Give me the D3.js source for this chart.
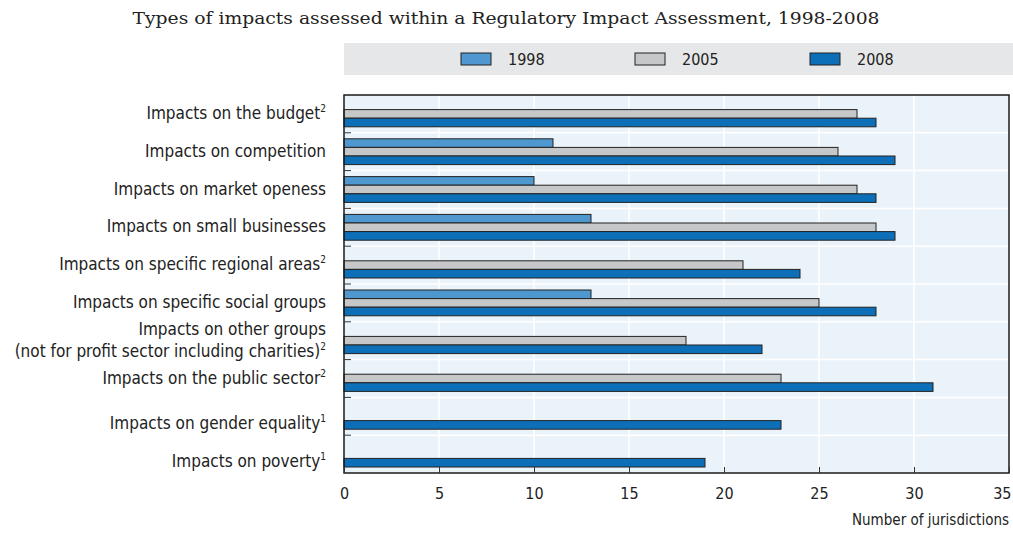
<!DOCTYPE html>
<html>
<head>
<meta charset="utf-8">
<script src="https://cdn.jsdelivr.net/npm/d3@7"></script>
<style>
  body { margin: 0; background: #fff; }
  svg { display: block; }
  .lbl { font-family: "DejaVu Sans Condensed", "DejaVu Sans", sans-serif; font-stretch: condensed; font-size: 16px; fill: #222; }
  .cat { font-size: 17px; }
</style>
</head>
<body>
<div id="chart"></div>
<script>
const categories = [
  ["Impacts on the budget", "2"],
  ["Impacts on competition", ""],
  ["Impacts on market openess", ""],
  ["Impacts on small businesses", ""],
  ["Impacts on specific regional areas", "2"],
  ["Impacts on specific social groups", ""],
  ["Impacts on other groups|(not for profit sector including charities)", "2"],
  ["Impacts on the public sector", "2"],
  ["Impacts on gender equality", "1"],
  ["Impacts on poverty", "1"]
];
const years = ["1998", "2005", "2008"];
const v1998 = [0, 11, 10, 13, 0, 13, 0, 0, 0, 0];
const v2005 = [27, 26, 27, 28, 21, 25, 18, 23, 0, 0];
const v2008 = [28, 29, 28, 29, 24, 28, 22, 31, 23, 19];
const xTicks = [0, 5, 10, 15, 20, 25, 30, 35];
const colors = ["#4e97cf", "#c6c7c9", "#0d6fb8"];

function draw() {
  const W = 1013, H = 534;
  const left = 344, right = 1009, top = 95, bottom = 473;

  const svg = d3.select("#chart").append("svg")
    .attr("width", W).attr("height", H);

  svg.append("text")
    .attr("x", 506).attr("y", 24)
    .attr("text-anchor", "middle")
    .style("font-family", "'DejaVu Serif', serif")
    .style("font-size", "16.5px")
    .attr("textLength", 747).attr("lengthAdjust", "spacingAndGlyphs")
    .attr("fill", "#222")
    .text("Types of impacts assessed within a Regulatory Impact Assessment, 1998-2008");

  // legend band
  svg.append("rect")
    .attr("x", 344).attr("y", 43).attr("width", W - 344).attr("height", 32)
    .attr("fill", "#e6e7e8");
  const legX = [461, 635, 810];
  years.forEach((y, i) => {
    svg.append("rect")
      .attr("x", legX[i]).attr("y", 53).attr("width", 30).attr("height", 12)
      .attr("fill", colors[i]).attr("stroke", "#222").attr("stroke-width", 1);
    svg.append("text").attr("class", "lbl")
      .attr("x", legX[i] + 47).attr("y", 65)
      .text(y);
  });

  const x = d3.scaleLinear().domain([0, 35]).range([left, right]);
  const y = d3.scaleBand().domain(d3.range(categories.length)).range([top, bottom]);
  const yInner = d3.scaleBand().domain(years).range([6, y.bandwidth() - 6]);

  svg.append("rect")
    .attr("x", left).attr("y", top).attr("width", right - left).attr("height", bottom - top)
    .attr("fill", "#ebf3fa");

  // grid
  svg.append("g").selectAll("line").data(xTicks.slice(1, -1)).join("line")
    .attr("x1", d => x(d)).attr("x2", d => x(d))
    .attr("y1", top).attr("y2", bottom)
    .attr("stroke", "#fff").attr("stroke-width", 1.5);
  svg.append("g").selectAll("line").data(d3.range(1, categories.length)).join("line")
    .attr("x1", left).attr("x2", right)
    .attr("y1", d => y(d)).attr("y2", d => y(d))
    .attr("stroke", "#fff").attr("stroke-width", 1.5);

  // bars
  const series = [v1998, v2005, v2008];
  series.forEach((vals, si) => {
    svg.append("g").selectAll("rect")
      .data(vals.map((v, i) => ({ v, i })).filter(d => d.v > 0))
      .join("rect")
      .attr("x", x(0))
      .attr("y", d => y(d.i) + yInner(years[si]))
      .attr("width", d => x(d.v) - x(0))
      .attr("height", yInner.bandwidth())
      .attr("fill", colors[si])
      .attr("stroke", "#222").attr("stroke-width", 1);
  });

  // frame
  svg.append("rect")
    .attr("x", left).attr("y", top).attr("width", right - left).attr("height", bottom - top)
    .attr("fill", "none").attr("stroke", "#1a1a1a").attr("stroke-width", 1.5);

  // y ticks (inward)
  svg.append("g").selectAll("line").data(d3.range(1, categories.length)).join("line")
    .attr("x1", left).attr("x2", left + 7)
    .attr("y1", d => y(d)).attr("y2", d => y(d))
    .attr("stroke", "#333").attr("stroke-width", 1);

  // x axis
  const xAxis = svg.append("g")
    .attr("transform", `translate(0,${bottom})`)
    .call(d3.axisBottom(x).tickValues(xTicks).tickSize(-6).tickPadding(15));
  xAxis.select(".domain").remove();
  xAxis.selectAll("line").attr("stroke", "#333");
  xAxis.selectAll("text").attr("class", "lbl").attr("fill", "#222")
    .attr("font-size", null).attr("font-family", null)
    .attr("text-anchor", d => d === 35 ? "end" : "middle")
    .attr("dx", d => d === 35 ? 2 : 0);

  svg.append("text").attr("class", "lbl")
    .attr("x", right).attr("y", 525).attr("text-anchor", "end")
    .style("font-size", "15px")
    .text("Number of jurisdictions");

  // category labels; the last two sit a bit low in the original
  categories.forEach(([name, sup], i) => {
    const lines = name.split("|");
    const cy = y(i) + y.bandwidth() / 2 + (i >= 8 ? 8 : 0);
    lines.forEach((ln, li) => {
      const t = svg.append("text").attr("class", "lbl cat")
        .attr("x", 326)
        .attr("y", cy + 5 + (li - (lines.length - 1) / 2) * 22)
        .attr("text-anchor", "end");
      t.append("tspan").text(ln);
      if (sup && li === lines.length - 1) {
        t.append("tspan").attr("dy", -7).attr("font-size", "10px").text(sup);
      }
    });
  });
}

draw();
</script>
</body>
</html>
